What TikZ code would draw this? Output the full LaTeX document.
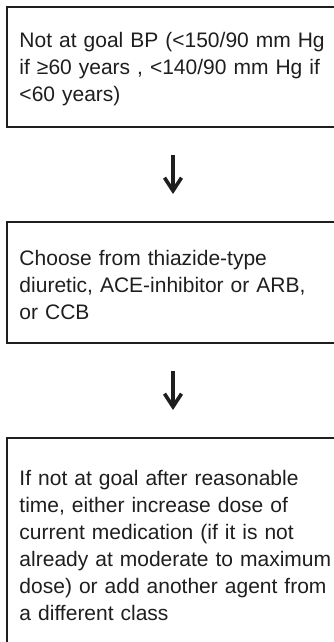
\documentclass[tikz,border=0pt]{standalone}
\usepackage{fontspec}
\setmainfont{Liberation Sans}
\usetikzlibrary{arrows.meta,positioning}
\definecolor{ink}{HTML}{1E1E1E}

\tikzset{
  stepbox/.style={draw=ink,line width=1.7pt,outer sep=0pt,inner xsep=12.5pt,
    minimum width=332pt,text width=330pt,align=left,anchor=north west,
    font=\fontsize{21}{27}\selectfont,text=ink,
    execute at begin node={\rule{0pt}{20.3pt}}},
  flowarrow/.style={-{Straight Barb[length=13pt,width=17pt,line width=3.6pt]},
    line width=3.2pt,ink,shorten <=28pt,shorten >=28pt}
}

\begin{document}
\begin{tikzpicture}
  \useasboundingbox (0pt,0pt) rectangle (333pt,642pt);
  \node[stepbox,minimum height=120pt] (goal) at (7pt,635pt)
    {Not at goal BP (<150/90 mm Hg\\ if ≥60 years , <140/90 mm Hg if\\ <60 years)};
  \node[stepbox,minimum height=121pt] (choose) at (7pt,420pt)
    {Choose from thiazide-type\\ diuretic, ACE-inhibitor or ARB,\\ or CCB};
  \node[stepbox,minimum height=209pt] (adjust) at (7pt,204pt)
    {If not at goal after reasonable\\ time, either increase dose of\\ current medication (if it is not\\ already at moderate to maximum\\ dose) or add another agent from\\ a different class};
  \draw[flowarrow] ([xshift=-11.5pt]goal.south) -- ([xshift=-11.5pt]choose.north);
  \draw[flowarrow] ([xshift=-11.5pt]choose.south) -- ([xshift=-11.5pt]adjust.north);
\end{tikzpicture}
\end{document}
